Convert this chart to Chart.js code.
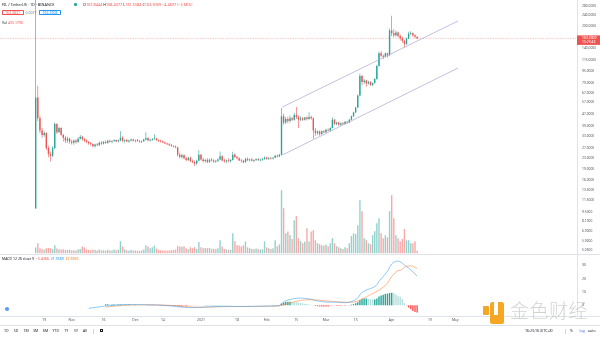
<!DOCTYPE html>
<html>
<head>
<meta charset="utf-8">
<title>FIL / TetherUS 1D BINANCE</title>
<script src="https://cdn.jsdelivr.net/npm/chart.js@4.4.1/dist/chart.umd.min.js"></script>
<style>
  html, body { margin: 0; padding: 0; background: #fff; }
  body { width: 600px; height: 337px; position: relative; overflow: hidden; font-family: "Noto Sans", Roboto, sans-serif; }
  canvas { position: absolute; left: 0; }
  #priceCanvas { top: 0; }
  #macdCanvas { top: 255px; }
  .t { position: absolute; white-space: nowrap; line-height: 1; font-size: 3.8px; color: #131722; }
  .s { font-size: 3.5px; }
  .red { color: #ef5350; }
  .blue { color: #2196f3; }
  .orange { color: #ff6d00; }
  .gray { color: #787b86; }
  .box { position: absolute; box-sizing: border-box; height: 5.2px; border: 0.6px solid; border-radius: 0.8px; font-size: 3.5px; line-height: 4.2px; text-align: center; }
  .hline { position: absolute; left: 0; width: 600px; height: 1px; background: #e0e3eb; }
  .vsep { position: absolute; width: 0.6px; height: 5px; background: #d1d4dc; }
  #wm { position: absolute; left: 510px; top: 300px; font-family: "Noto Sans CJK SC", sans-serif; font-size: 19px; font-weight: 300; line-height: 1; color: rgba(175,175,175,0.55); letter-spacing: 0.5px; }
</style>
</head>
<body>
<canvas id="priceCanvas" width="600" height="255"></canvas>
<canvas id="macdCanvas" width="600" height="72"></canvas>

<div class="hline" style="top:254px"></div>
<div class="hline" style="top:316px"></div>
<div class="hline" style="top:325px"></div>

<!-- legend rows -->
<div class="t" style="left:2px;top:2.8px">FIL / TetherUS · 1D · BINANCE</div>
<div style="position:absolute;left:74px;top:3.4px;width:2.6px;height:2.6px;border-radius:50%;background:#26a69a"></div>
<div class="t" style="left:83px;top:2.8px">O<span class="red">167.8444</span> H<span class="red">168.4377</span> L<span class="red">161.5584</span> C<span class="red">163.3909</span> <span class="red">−4.4697 (−2.66%)</span></div>
<div class="box red" style="left:1.5px;top:10.2px;width:22px">163.3831</div>
<div class="t s gray" style="left:25.5px;top:11px">0.0077</div>
<div class="box blue" style="left:39px;top:10.2px;width:22px">163.3908</div>
<div class="t s" style="left:2px;top:20.5px">Vol <span class="red">435.179K</span></div>

<div class="t s" style="left:2px;top:257.4px">MACD 12 26 close 9 <span class="red">&nbsp;−5.4366</span> <span class="blue">&nbsp;21.9589</span> <span class="orange">&nbsp;27.3955</span></div>
<div style="position:absolute;left:4.5px;top:307px;width:4.5px;height:4px;border-radius:50%;background:#5b9cf0"></div>

<!-- bottom toolbar -->
<div class="t s" style="left:4px;top:329px">1D</div>
<div class="t s" style="left:13.8px;top:329px">5D</div>
<div class="t s" style="left:23.5px;top:329px">1M</div>
<div class="t s" style="left:33px;top:329px">3M</div>
<div class="t s" style="left:43px;top:329px">6M</div>
<div class="t s" style="left:52.5px;top:329px">YTD</div>
<div class="t s" style="left:64.3px;top:329px">1Y</div>
<div class="t s" style="left:74px;top:329px">5Y</div>
<div class="t s" style="left:83px;top:329px">All</div>
<div class="vsep" style="left:93px;top:328.5px"></div>
<div style="position:absolute;left:99.5px;top:329px;width:3.6px;height:3.4px;box-sizing:border-box;border:0.6px solid #131722;border-radius:0.5px"></div>
<div class="t s" style="left:525px;top:329px">16:23:16 (UTC+8)</div>
<div class="vsep" style="left:565px;top:328.5px"></div>
<div class="t s" style="left:570px;top:329px">%</div>
<div class="t s" style="left:579.5px;top:329px;color:#2962ff">log</div>
<div class="t s" style="left:588px;top:329px">auto</div>

<!-- watermark -->
<div style="position:absolute;left:483px;top:306px;width:5.5px;height:9px;background:#f5a623;border-radius:1px"></div>
<div style="position:absolute;left:490px;top:301.5px;width:13.5px;height:22px;background:#f5a623;border-radius:2.5px"></div>
<div style="position:absolute;left:493.5px;top:301.5px;width:4px;height:13px;background:#fff"></div>
<div id="wm">金色财经</div>

<script>
// daily candles, 15 Oct 2020 (day 0) to 13 Apr 2021 (day 180)
const opens = [
  10.00, 62.00, 44.00, 36.00, 33.50, 34.50, 27.00, 24.50, 23.80, 27.00,
  40.00, 35.00, 37.50, 33.50, 32.00, 30.50, 31.50, 30.00, 29.50, 30.50,
  29.80, 31.50, 32.50, 31.20, 30.50, 29.80, 29.20, 28.80, 27.80, 28.60,
  28.30, 29.50, 29.00, 29.80, 29.30, 30.40, 29.90, 30.30, 30.80, 30.10,
  30.60, 32.00, 30.40, 30.80, 30.10, 30.50, 31.00, 30.40, 30.70, 30.20,
  29.90, 30.20, 31.00, 31.80, 30.60, 30.90, 31.30, 31.60, 30.70, 30.40,
  30.00, 29.60, 29.10, 28.70, 28.30, 27.90, 27.70, 27.30, 24.20, 23.30,
  24.00, 22.80, 22.20, 23.00, 21.80, 21.50, 20.90, 21.90, 24.20, 22.40,
  21.80, 22.20, 21.50, 22.30, 22.00, 21.60, 21.90, 22.40, 23.60, 22.00,
  21.70, 22.10, 21.80, 22.20, 24.20, 23.30, 22.80, 22.00, 21.90, 21.40,
  22.60, 22.10, 22.40, 21.90, 22.20, 22.50, 22.10, 22.30, 22.60, 23.10,
  22.60, 22.90, 22.70, 23.00, 23.80, 23.50, 24.10, 45.50, 41.00, 43.50,
  42.00, 44.00, 43.00, 46.50, 45.00, 43.00, 44.00, 43.00, 44.50, 43.50,
  45.00, 44.00, 36.00, 34.50, 35.50, 34.00, 35.50, 35.00, 36.50, 36.00,
  37.50, 43.00, 40.00, 41.00, 39.50, 40.50, 40.00, 41.50, 41.00, 43.00,
  45.50, 48.50, 52.50, 64.00, 88.00, 80.00, 82.00, 78.00, 80.00, 76.00,
  78.50, 84.00, 104.0, 128.0, 123.0, 121.0, 128.0, 124.0, 186.0, 178.0,
  172.0, 180.0, 170.0, 164.0, 157.0, 149.0, 163.0, 176.0, 178.0, 172.0,
  167.8444
];
const highs = [
  330.0, 75.00, 46.00, 37.50, 35.50, 35.00, 28.00, 25.50, 27.80, 41.00,
  40.50, 38.50, 38.00, 34.00, 33.00, 32.50, 32.00, 30.80, 31.00, 31.20,
  32.20, 33.50, 33.00, 31.80, 31.00, 30.30, 29.80, 29.20, 29.00, 29.30,
  30.00, 30.20, 30.30, 30.50, 30.80, 31.00, 30.60, 31.20, 31.00, 31.00,
  35.50, 32.80, 31.20, 31.40, 30.90, 31.60, 31.40, 31.00, 31.30, 30.80,
  30.50, 31.50, 35.00, 32.20, 31.40, 31.80, 33.80, 32.00, 31.20, 30.90,
  30.60, 30.10, 29.60, 29.30, 28.80, 28.30, 28.10, 27.60, 25.00, 24.60,
  24.40, 23.40, 23.30, 23.50, 22.40, 22.00, 22.30, 26.00, 24.60, 23.00,
  22.60, 22.80, 22.60, 22.90, 22.50, 22.30, 22.80, 25.50, 24.00, 22.60,
  22.40, 22.80, 22.50, 25.40, 24.80, 23.80, 23.20, 22.60, 22.20, 23.00,
  23.10, 22.70, 22.90, 22.50, 22.80, 22.90, 22.60, 22.90, 23.50, 23.40,
  23.20, 23.40, 23.30, 24.20, 24.30, 24.60, 52.00, 47.50, 45.00, 45.20,
  46.00, 45.00, 48.00, 53.00, 46.00, 45.50, 44.80, 45.00, 45.50, 48.50,
  46.00, 44.50, 37.50, 36.00, 36.00, 36.00, 36.30, 37.00, 37.20, 38.00,
  44.50, 43.50, 41.50, 41.60, 41.00, 41.20, 42.00, 42.00, 43.50, 46.00,
  49.00, 53.00, 65.00, 92.00, 90.00, 84.00, 83.00, 81.50, 81.00, 79.00,
  85.00, 106.0, 131.0, 133.0, 125.5, 129.5, 129.0, 192.0, 237.0, 190.0,
  186.0, 183.0, 174.0, 168.0, 160.0, 166.0, 182.0, 184.0, 181.0, 175.0,
  168.4377
];
const lows = [
  10.00, 42.00, 34.50, 32.00, 32.50, 26.00, 23.20, 21.60, 23.20, 26.50,
  34.00, 34.50, 33.00, 30.00, 29.30, 29.50, 29.00, 28.60, 28.50, 29.00,
  29.50, 31.00, 30.50, 29.80, 29.20, 28.50, 28.00, 27.30, 27.20, 27.80,
  28.00, 28.50, 28.60, 29.00, 29.00, 29.60, 29.20, 29.90, 29.80, 29.70,
  30.20, 29.80, 29.40, 29.80, 29.50, 30.10, 30.00, 29.60, 30.00, 29.40,
  29.30, 29.90, 30.60, 30.20, 30.00, 30.40, 30.90, 30.40, 29.80, 29.60,
  29.30, 28.80, 28.40, 28.00, 27.60, 27.20, 26.90, 23.50, 22.80, 22.60,
  22.40, 21.60, 21.80, 21.40, 21.00, 20.10, 20.50, 21.70, 22.00, 21.30,
  21.20, 21.00, 21.10, 21.60, 21.20, 21.10, 21.50, 22.10, 21.60, 21.20,
  21.00, 21.40, 21.30, 22.00, 22.90, 22.40, 21.80, 21.20, 21.00, 21.20,
  21.80, 21.60, 21.70, 21.40, 21.80, 21.90, 21.60, 21.90, 22.30, 22.30,
  22.20, 22.40, 22.40, 22.80, 23.10, 23.30, 23.90, 39.50, 40.00, 40.50,
  41.00, 42.00, 42.50, 43.50, 37.50, 42.00, 42.30, 42.50, 42.50, 43.00,
  43.00, 31.50, 33.00, 33.50, 33.00, 33.60, 34.50, 34.60, 35.50, 35.60,
  37.20, 39.50, 39.20, 39.00, 39.00, 39.50, 39.70, 40.40, 40.80, 42.50,
  45.00, 47.80, 52.00, 63.00, 76.00, 77.00, 74.00, 76.50, 75.00, 74.50,
  77.50, 83.00, 103.0, 121.0, 116.0, 120.0, 119.0, 122.0, 170.0, 166.0,
  168.0, 166.0, 158.0, 152.0, 141.0, 147.0, 161.0, 172.0, 168.0, 164.0,
  161.5584
];
const closes = [
  62.00, 44.00, 36.00, 33.50, 34.50, 27.00, 24.50, 23.80, 27.00, 40.00,
  35.00, 37.50, 33.50, 32.00, 30.50, 31.50, 30.00, 29.50, 30.50, 29.80,
  31.50, 32.50, 31.20, 30.50, 29.80, 29.20, 28.80, 27.80, 28.60, 28.30,
  29.50, 29.00, 29.80, 29.30, 30.40, 29.90, 30.30, 30.80, 30.10, 30.60,
  32.00, 30.40, 30.80, 30.10, 30.50, 31.00, 30.40, 30.70, 30.20, 29.90,
  30.20, 31.00, 31.80, 30.60, 30.90, 31.30, 31.60, 30.70, 30.40, 30.00,
  29.60, 29.10, 28.70, 28.30, 27.90, 27.70, 27.30, 24.20, 23.30, 24.00,
  22.80, 22.20, 23.00, 21.80, 21.50, 20.90, 21.90, 24.20, 22.40, 21.80,
  22.20, 21.50, 22.30, 22.00, 21.60, 21.90, 22.40, 23.60, 22.00, 21.70,
  22.10, 21.80, 22.20, 24.20, 23.30, 22.80, 22.00, 21.90, 21.40, 22.60,
  22.10, 22.40, 21.90, 22.20, 22.50, 22.10, 22.30, 22.60, 23.10, 22.60,
  22.90, 22.70, 23.00, 23.80, 23.50, 24.10, 45.50, 41.00, 43.50, 42.00,
  44.00, 43.00, 46.50, 45.00, 43.00, 44.00, 43.00, 44.50, 43.50, 45.00,
  44.00, 36.00, 34.50, 35.50, 34.00, 35.50, 35.00, 36.50, 36.00, 37.50,
  43.00, 40.00, 41.00, 39.50, 40.50, 40.00, 41.50, 41.00, 43.00, 45.50,
  48.50, 52.50, 64.00, 88.00, 80.00, 82.00, 78.00, 80.00, 76.00, 78.50,
  84.00, 104.0, 128.0, 123.0, 121.0, 128.0, 124.0, 186.0, 178.0, 172.0,
  180.0, 170.0, 164.0, 157.0, 149.0, 163.0, 176.0, 178.0, 172.0, 167.8444,
  163.3909
];
// volume in thousands of FIL
const volumes = [
  970, 1700, 850, 700, 600, 850, 900, 850, 700, 1350,
  800, 650, 620, 680, 560, 540, 610, 480, 520, 470,
  640, 700, 1150, 1000, 620, 580, 500, 640, 560, 470,
  620, 480, 520, 450, 600, 480, 460, 640, 500, 620,
  2050, 1150, 650, 500, 470, 560, 480, 450, 430, 400,
  460, 640, 1350, 1150, 850, 1000, 1300, 800, 580, 500,
  480, 460, 450, 470, 520, 560, 640, 1200, 1150, 1100,
  1200, 850, 680, 1000, 860, 1050, 700, 1900, 1000, 850,
  880, 860, 900, 760, 770, 680, 840, 2200, 1150, 700,
  650, 600, 580, 3400, 2050, 1350, 1300, 1150, 1350, 2000,
  1000, 850, 700, 680, 820, 700, 600, 680, 2000, 1000,
  850, 700, 840, 2200, 1200, 1500, 10700, 7650, 3400, 3700,
  3100, 2400, 5600, 6300, 2550, 2050, 1700, 2000, 4250, 2000,
  3700, 3900, 2200, 1700, 1550, 1350, 1300, 1500, 1200, 1700,
  2550, 1700, 1200, 1000, 850, 700, 1000, 850, 1700, 2900,
  3400, 3250, 4750, 9000, 7150, 2550, 2200, 1700, 1550, 3050,
  3750, 5100, 5950, 3400, 2550, 3050, 2700, 7150, 9850, 5950,
  3050, 2550, 2050, 2400, 4100, 2200, 2200, 1700, 1700, 2050,
  435.179
];

// MACD 12 26 9
const macdDays = [
  25, 28, 31, 33, 36, 40, 44, 48, 52, 56, 60, 64, 68, 72, 76, 80, 84, 88, 92, 96,
  100, 104, 108, 112, 115, 116, 117, 118, 120, 122, 124, 126, 128, 130, 132, 134, 136, 138, 140, 142,
  144, 146, 148, 150, 152, 153, 154, 156, 158, 160, 161, 162, 164, 165, 166, 167, 168, 169, 170, 171,
  172, 173, 174, 175, 176, 177, 178, 179, 180
];
const macdLine = [
  -2.3, -1.6, -0.9, -0.5, -0.1, 0.4, 0.6, 0.5, 0.4, 0.3, 0.0, -0.5, -1.2, -1.7, -1.6, -1.3, -1.0, -0.8, -0.8, -0.85,
  -0.85, -0.75, -0.65, -0.45, -0.2, 1.3, 2.4, 3.3, 4.4, 5.0, 5.4, 5.3, 5.0, 4.5, 3.6, 3.0, 2.6, 2.3, 2.4, 2.3,
  2.1, 2.0, 2.4, 3.4, 5.5, 7.8, 9.6, 11.4, 12.6, 14.0, 15.5, 18.0, 21.5, 23.5, 25.5, 28.5, 31.0, 32.3, 33.0, 33.1,
  32.6, 31.6, 30.2, 29.0, 27.8, 26.6, 25.0, 23.5, 21.96
];
const signalLine = [
  null, null, null, -1.3, -0.8, -0.2, 0.2, 0.4, 0.4, 0.35, 0.2, -0.1, -0.6, -1.1, -1.4, -1.4, -1.2, -1.0, -0.9, -0.85,
  -0.85, -0.8, -0.72, -0.6, -0.45, -0.1, 0.4, 0.9, 1.8, 2.6, 3.3, 3.8, 4.1, 4.2, 4.1, 3.8, 3.5, 3.2, 2.9, 2.7,
  2.5, 2.3, 2.2, 2.5, 3.2, 3.8, 4.6, 6.3, 8.0, 9.6, 10.4, 11.4, 13.6, 14.9, 16.7, 19.2, 21.6, 23.3, 24.8, 26.1,
  26.2, 27.0, 28.6, 29.2, 29.5, 29.5, 29.2, 28.5, 27.4
];
const histStart = 33;
const macdHist = [
  0.8, 0.8, 0.7, 0.7, 0.7, 0.6, 0.6, 0.6, 0.5, 0.5, 0.4, 0.4, 0.3,
  0.2, 0.2, 0.1, 0.1, 0.05, 0.0, 0.0, -0.05, -0.05, -0.05, -0.1, -0.1, -0.15,
  -0.2, -0.25, -0.3, -0.35, -0.4, -0.45, -0.5, -0.55, -0.6, -0.65, -0.65, -0.6, -0.6, -0.55,
  -0.45, -0.35, -0.25, -0.15, -0.05, 0.05, 0.1, 0.15, 0.2, 0.2, 0.2, 0.2, 0.2, 0.2, 0.2, 0.2, 0.15, 0.15,
  0.1, 0.1, 0.05, 0.05, 0.0, 0.0, 0.0, 0.0, 0.0, 0.0,
  0.02, 0.03, 0.05, 0.05, 0.06, 0.07, 0.08, 0.08, 0.1, 0.12, 0.14, 0.15, 0.18, 0.2,
  0.25, 1.4, 2.0, 2.4, 2.6, 2.6, 2.5, 2.4,
  2.2, 2.1, 1.8, 1.5, 1.2,
  0.9, 0.6, 0.3, 0.0, -0.5, -0.7, -0.8, -0.9, -0.9, -0.9, -0.9, -0.7, -0.5,
  -0.4, -0.4, -0.4, -0.4, -0.3, -0.3, -0.1, 0.2,
  0.5, 0.9, 1.6, 2.3, 4.0,
  5.0, 5.1, 5.1, 4.8, 4.6,
  4.4, 4.4, 5.1, 6.6, 7.4, 7.9, 8.6,
  8.8, 9.3, 9.4,
  9.0, 8.2, 7.0, 6.4, 4.6,
  1.6, -0.2, -1.7, -2.9, -4.2, -5.0, -5.44
];

// parallel channel drawn on the chart
const channelDays = [116.5, 199.3];
const channelTop = [53.0, 217.5];
const channelBottom = [24.1, 100.5];

// axis ticks
const priceTicks = [5.05, 5.9, 6.9, 8.1, 9.5, 11.5, 13.5, 16, 19, 23, 27, 33, 39, 47, 57, 67, 79, 95, 115, 140, 200, 240, 280];
const macdTicks = [0, 10, 20, 30];
const tickDays = [4, 17, 32, 47, 60, 78, 95, 109, 123, 137, 151, 168, 186, 198];
const tickLabels = ['19', 'Nov', '16', 'Dec', '14', '2021', '18', 'Feb', '15', 'Mar', '15', 'Apr', '19', 'May'];

const countdown = '15:23:43';
const fontFamily = '"Noto Sans", Roboto, sans-serif';
Chart.defaults.font.family = fontFamily;

const upColor = '#26a69a';
const downColor = '#ef5350';
const channelColor = '#aba3d6';
const X_MIN = -16.85;
const X_MAX = 255.45;
const AXIS_W = 23;

const candleColors = closes.map((c, i) => c >= opens[i] ? upColor : downColor);
const volumeColors = closes.map((c, i) => c >= opens[i] ? 'rgba(38,166,154,0.5)' : 'rgba(239,83,80,0.5)');
const histColors = macdHist.map((h, i) => {
    const prev = i > 0 ? macdHist[i - 1] : 0;
    if (h >= 0) return h >= prev ? '#26a69a' : '#b2dfdb';
    return h <= prev ? '#ff5252' : '#ffcdd2';
});

function fixAxisWidth(scale) {
    scale.width = AXIS_W;
    scale.paddingTop = 0;
    scale.paddingBottom = 0;
}

// last price line and tag on the price scale
const lastPricePlugin = {
    id: 'lastPrice',
    beforeDatasetsDraw(chart) {
        const { ctx, chartArea, scales } = chart;
        const y = scales.y.getPixelForValue(closes[closes.length - 1]);
        ctx.save();
        ctx.strokeStyle = 'rgba(239,83,80,0.5)';
        ctx.lineWidth = 0.6;
        ctx.setLineDash([1.5, 1]);
        ctx.beginPath();
        ctx.moveTo(chartArea.left, y);
        ctx.lineTo(chartArea.right, y);
        ctx.stroke();
        ctx.restore();
    },
    afterDraw(chart) {
        const { ctx, chartArea, scales } = chart;
        const last = closes[closes.length - 1];
        const y = scales.y.getPixelForValue(last);
        ctx.save();
        ctx.fillStyle = downColor;
        ctx.fillRect(chartArea.right, y - 3, AXIS_W, 9.5);
        ctx.fillStyle = '#ffffff';
        ctx.font = '3.4px ' + fontFamily;
        ctx.textBaseline = 'middle';
        ctx.fillText(last.toFixed(4), chartArea.right + 5, y - 0.2);
        ctx.fillText(countdown, chartArea.right + 5, y + 4);
        ctx.restore();
    }
};

const barCommon = {
    grouped: false,
    barPercentage: 1,
    categoryPercentage: 1,
    inflateAmount: 0,
    borderWidth: 0
};

new Chart(document.getElementById('priceCanvas'), {
    type: 'bar',
    data: {
        datasets: [
            {
                type: 'line',
                data: channelDays.map((d, i) => ({ x: d, y: channelTop[i] })),
                borderColor: channelColor,
                borderWidth: 0.7,
                pointRadius: 0,
                yAxisID: 'y',
                order: 0
            },
            {
                type: 'line',
                data: channelDays.map((d, i) => ({ x: d, y: channelBottom[i] })),
                borderColor: channelColor,
                borderWidth: 0.7,
                pointRadius: 0,
                yAxisID: 'y',
                order: 0
            },
            Object.assign({
                data: closes.map((c, i) => ({ x: i, y: [opens[i], c] })),
                backgroundColor: candleColors,
                maxBarThickness: 1.4,
                minBarLength: 0.5,
                yAxisID: 'y',
                order: 1
            }, barCommon),
            Object.assign({
                data: closes.map((c, i) => ({ x: i, y: [lows[i], highs[i]] })),
                backgroundColor: candleColors,
                maxBarThickness: 0.6,
                yAxisID: 'y',
                order: 2
            }, barCommon),
            Object.assign({
                data: volumes.map((v, i) => ({ x: i, y: v })),
                backgroundColor: volumeColors,
                maxBarThickness: 1.4,
                yAxisID: 'yVol',
                order: 3
            }, barCommon)
        ]
    },
    options: {
        responsive: false,
        animation: false,
        devicePixelRatio: 1,
        layout: { padding: 0, autoPadding: false },
        plugins: { legend: { display: false }, tooltip: { enabled: false } },
        scales: {
            x: { type: 'linear', min: X_MIN, max: X_MAX, offset: false, display: false },
            y: {
                type: 'logarithmic',
                position: 'right',
                min: 4.66,
                max: 307,
                bounds: 'data',
                afterFit: fixAxisWidth,
                afterBuildTicks(scale) {
                    scale.ticks = priceTicks.map(v => ({ value: v }));
                },
                ticks: {
                    autoSkip: false,
                    padding: 5,
                    crossAlign: 'near',
                    color: '#50535e',
                    font: { size: 3.3 },
                    callback: v => Number(v).toFixed(4)
                },
                grid: { display: false, drawTicks: false },
                border: { display: true, color: '#e0e3eb', width: 1 }
            },
            yVol: { type: 'linear', display: false, min: -300, max: 43000 }
        }
    },
    plugins: [lastPricePlugin]
});

new Chart(document.getElementById('macdCanvas'), {
    type: 'bar',
    data: {
        datasets: [
            {
                type: 'line',
                data: macdDays.map((d, i) => ({ x: d, y: macdLine[i] })),
                borderColor: '#42a5f5',
                borderWidth: 0.6,
                pointRadius: 0,
                tension: 0.3,
                order: 0
            },
            {
                type: 'line',
                data: macdDays.map((d, i) => ({ x: d, y: signalLine[i] })),
                borderColor: '#ff8a3d',
                borderWidth: 0.6,
                pointRadius: 0,
                tension: 0.3,
                order: 1
            },
            Object.assign({
                data: macdHist.map((h, i) => ({ x: histStart + i, y: h })),
                backgroundColor: histColors,
                maxBarThickness: 1.4,
                order: 2
            }, barCommon)
        ]
    },
    options: {
        responsive: false,
        animation: false,
        devicePixelRatio: 1,
        layout: { padding: 0, autoPadding: false },
        plugins: { legend: { display: false }, tooltip: { enabled: false } },
        scales: {
            x: {
                type: 'linear',
                min: X_MIN,
                max: X_MAX,
                offset: false,
                position: 'bottom',
                afterFit(scale) {
                    scale.height = 11;
                    scale.paddingLeft = 0;
                    scale.paddingRight = 0;
                },
                afterBuildTicks(scale) {
                    scale.ticks = tickDays.map(v => ({ value: v }));
                },
                ticks: {
                    autoSkip: false,
                    maxRotation: 0,
                    padding: 2.2,
                    color: '#50535e',
                    font: { size: 3.4 },
                    callback: v => tickLabels[tickDays.indexOf(v)] || ''
                },
                grid: { display: false, drawTicks: false },
                border: { display: false }
            },
            y: {
                type: 'linear',
                position: 'right',
                min: -8,
                max: 37.7,
                afterFit: fixAxisWidth,
                afterBuildTicks(scale) {
                    scale.ticks = macdTicks.map(v => ({ value: v }));
                },
                ticks: {
                    autoSkip: false,
                    padding: 5,
                    crossAlign: 'near',
                    color: '#50535e',
                    font: { size: 3.4 }
                },
                grid: { display: false, drawTicks: false },
                border: { display: true, color: '#e0e3eb', width: 1 }
            }
        }
    }
});
</script>
</body>
</html>
